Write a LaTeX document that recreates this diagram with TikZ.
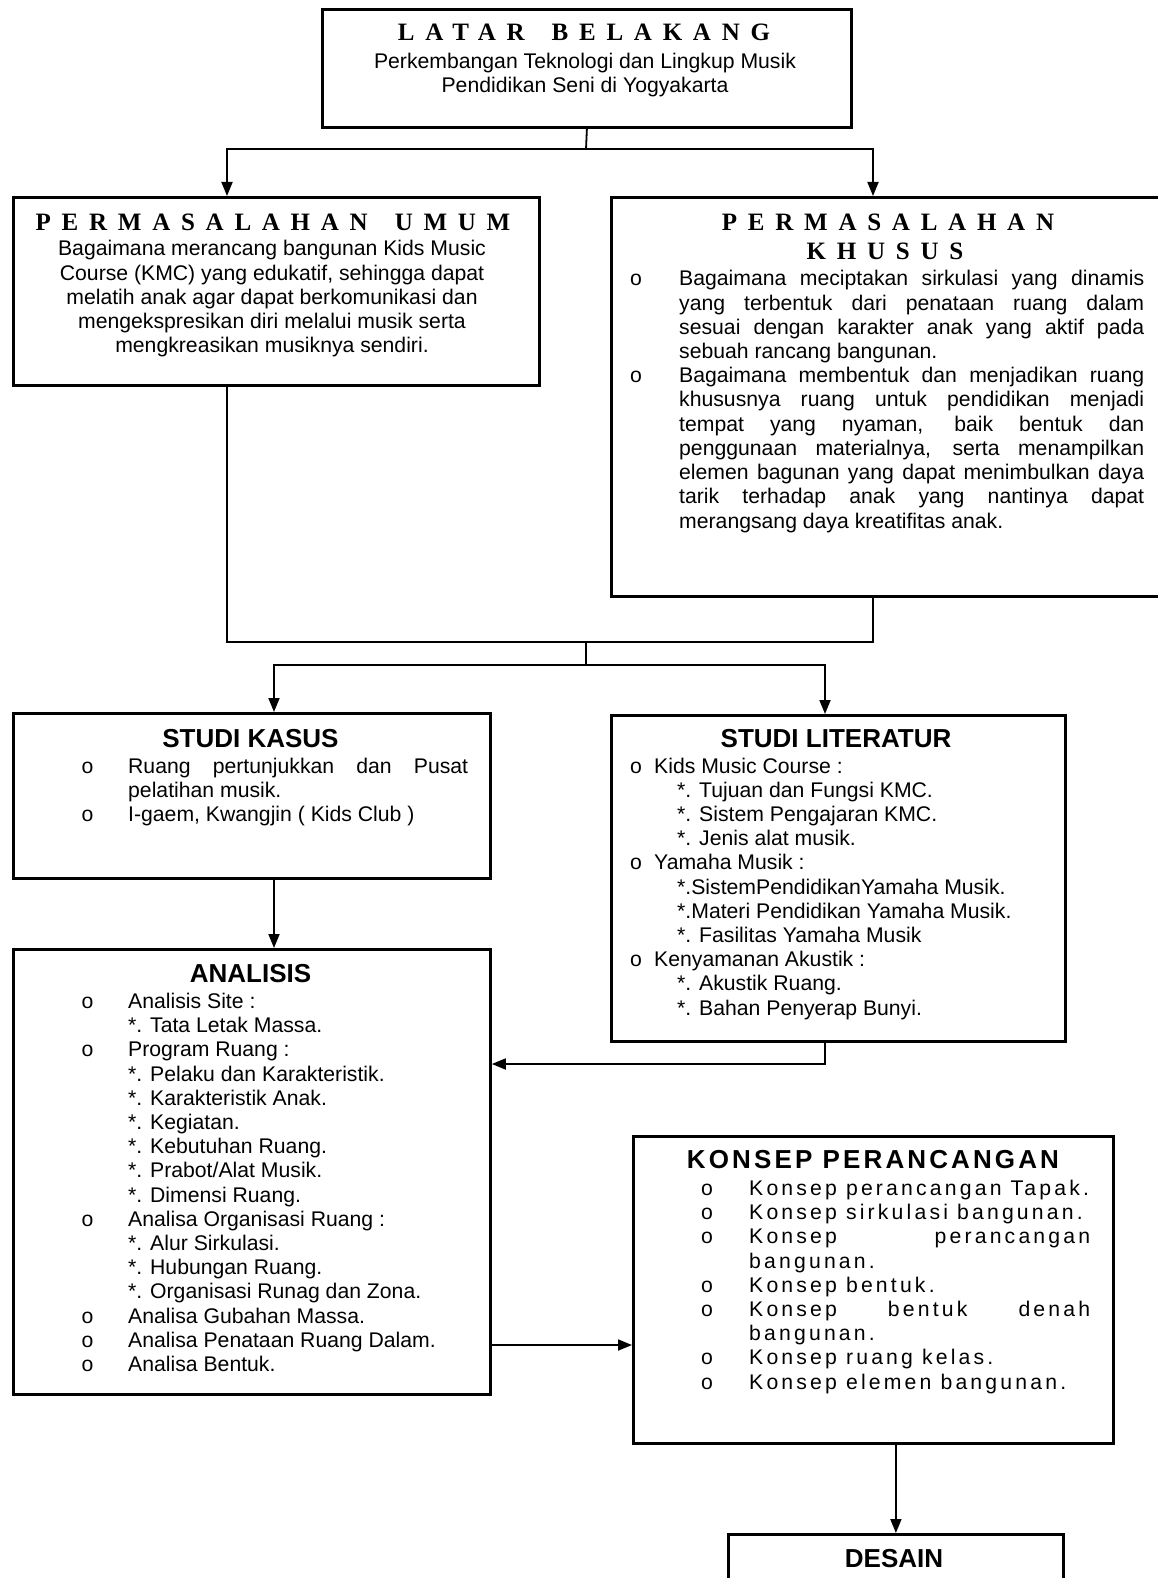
\documentclass[tikz,border=0pt]{standalone}
\usepackage{fontspec}
\setmainfont{Liberation Sans}
\newfontfamily\ttlserif[LetterSpace=43]{Liberation Serif}
\newfontfamily\spsans[LetterSpace=15]{Liberation Sans}
\newfontfamily\spsanst[LetterSpace=12]{Liberation Sans}
\usetikzlibrary{arrows.meta}
\newcommand\mybody{\fontsize{21.2}{24.2}\selectfont}
\newcommand\myhead{\fontsize{26}{30}\selectfont\bfseries}
\newcommand\myserif{\fontsize{25}{29}\selectfont\ttlserif\bfseries}
\newcommand\bul[2]{\par\hangindent=#1\hangafter=1\noindent\makebox[#1][l]{o}#2\par}
\newcommand\jtext[2]{\begin{minipage}[t]{#1}\mybody\parindent=0pt\tolerance=10000\emergencystretch=0pt #2\end{minipage}}
\newcommand\ltext[2]{\begin{minipage}[t]{#1}\mybody\parindent=0pt\raggedright #2\end{minipage}}
\newcommand\ctext[2]{\begin{minipage}[t]{#1}\mybody\centering #2\end{minipage}}
\begin{document}
\begin{tikzpicture}[x=1pt,y=-1pt,
  box/.style={draw,line width=2.8pt,rectangle,inner sep=0pt,anchor=north west},
  conn/.style={line width=1.8pt},
  arr/.style={conn,-{Triangle[length=14pt,width=11pt]}},
  ttl/.style={inner sep=0pt,anchor=base},
  body/.style={inner sep=0pt,anchor=base west},
]
\useasboundingbox (0,0) rectangle (1157,1578);
\fill[white] (0,0) rectangle (1157,1578);
% boxes
\node[box,minimum width=529pt,minimum height=118pt] (lb) at (321,8) {};
\node[box,minimum width=526pt,minimum height=188pt] (pu) at (12,196) {};
\node[box,minimum width=560pt,minimum height=399pt] (pk) at (610,196) {};
\node[box,minimum width=477pt,minimum height=165pt] (sk) at (12,712) {};
\node[box,minimum width=454pt,minimum height=326pt] (sl) at (610,714) {};
\node[box,minimum width=477pt,minimum height=445pt] (an) at (12,948) {};
\node[box,minimum width=480pt,minimum height=307pt] (kp) at (632,1135) {};
\node[box,minimum width=335pt,minimum height=90pt] (ds) at (727,1533) {};
% texts
\node[ttl] (lbt) at (584,41) {\fontsize{25}{29}\selectfont\ttlserif\bfseries LATAR\hspace{10pt} BELAKANG};
\node[ttl] (lbs) at (585,69)
  {\begin{minipage}[t]{500pt}\fontsize{21.2}{23.1}\selectfont\centering
   Perkembangan Teknologi dan Lingkup Musik\\Pendidikan Seni di Yogyakarta\end{minipage}};
\node[ttl] (put) at (273,230.5) {\myserif PERMASALAHAN\hspace{10pt} UMUM};
\node[ttl] (pus) at (272,256)
  {\ctext{510pt}{Bagaimana merancang bangunan Kids Music\\
   Course (KMC) yang edukatif, sehingga dapat\\
   melatih anak agar dapat berkomunikasi dan\\
   mengekspresikan diri melalui musik serta\\
   mengkreasikan musiknya sendiri.}};
\node[ttl] (pkt1) at (888,230.5) {\myserif PERMASALAHAN};
\node[ttl] (pkt2) at (885,259.5) {\myserif KHUSUS};
\node[body] (pks) at (630,286)
  {\jtext{514pt}{\bul{49pt}{Bagaimana meciptakan sirkulasi yang dinamis\linebreak yang terbentuk dari penataan ruang dalam\linebreak sesuai dengan karakter anak yang aktif pada\linebreak sebuah rancang bangunan.}%
   \bul{49pt}{Bagaimana membentuk dan menjadikan ruang\linebreak khususnya ruang untuk pendidikan menjadi\linebreak tempat yang nyaman, baik bentuk dan\linebreak penggunaan materialnya, serta menampilkan\linebreak elemen bagunan yang dapat menimbulkan daya\linebreak tarik terhadap anak yang nantinya dapat\linebreak merangsang daya kreatifitas anak.}}};
\node[ttl] (skt) at (250.5,747) {\myhead STUDI KASUS};
\node[body] (sks) at (81.5,773)
  {\jtext{386.5pt}{\bul{46.5pt}{Ruang pertunjukkan dan Pusat\linebreak pelatihan musik.}%
   \bul{46.5pt}{I-gaem, Kwangjin ( Kids Club )}}};
\node[ttl] (slt) at (836,747) {\myhead STUDI LITERATUR};
\node[body] (sls) at (630,773)
  {\ltext{430pt}{\makebox[24pt][l]{o}Kids Music Course :\\
   \hspace*{47pt}*. Tujuan dan Fungsi KMC.\\
   \hspace*{47pt}*. Sistem Pengajaran KMC.\\
   \hspace*{47pt}*. Jenis alat musik.\\
   \makebox[24pt][l]{o}Yamaha Musik :\\
   \hspace*{47pt}*.SistemPendidikanYamaha Musik.\\
   \hspace*{47pt}*.Materi Pendidikan Yamaha Musik.\\
   \hspace*{47pt}*. Fasilitas Yamaha Musik\\
   \makebox[24pt][l]{o}Kenyamanan Akustik :\\
   \hspace*{47pt}*. Akustik Ruang.\\
   \hspace*{47pt}*. Bahan Penyerap Bunyi.}};
\node[ttl] (ant) at (250.5,982) {\myhead ANALISIS};
\node[body] (ans) at (81.5,1008.5)
  {\ltext{400pt}{\makebox[46.5pt][l]{o}Analisis Site :\\
   \hspace*{46.5pt}*. Tata Letak Massa.\\
   \makebox[46.5pt][l]{o}Program Ruang :\\
   \hspace*{46.5pt}*. Pelaku dan Karakteristik.\\
   \hspace*{46.5pt}*. Karakteristik Anak.\\
   \hspace*{46.5pt}*. Kegiatan.\\
   \hspace*{46.5pt}*. Kebutuhan Ruang.\\
   \hspace*{46.5pt}*. Prabot/Alat Musik.\\
   \hspace*{46.5pt}*. Dimensi Ruang.\\
   \makebox[46.5pt][l]{o}Analisa Organisasi Ruang :\\
   \hspace*{46.5pt}*. Alur Sirkulasi.\\
   \hspace*{46.5pt}*. Hubungan Ruang.\\
   \hspace*{46.5pt}*. Organisasi Runag dan Zona.\\
   \makebox[46.5pt][l]{o}Analisa Gubahan Massa.\\
   \makebox[46.5pt][l]{o}Analisa Penataan Ruang Dalam.\\
   \makebox[46.5pt][l]{o}Analisa Bentuk.}};
\node[ttl] (kpt) at (873,1168) {\fontsize{26}{30}\selectfont\spsanst\bfseries KONSEP PERANCANGAN};
\node[body] (kps) at (701,1195.5)
  {\jtext{389pt}{\spsans
   \bul{48pt}{Konsep perancangan Tapak.}%
   \bul{48pt}{Konsep sirkulasi bangunan.}%
   \bul{48pt}{Konsep perancangan\linebreak bangunan.}%
   \bul{48pt}{Konsep bentuk.}%
   \bul{48pt}{Konsep bentuk denah\linebreak bangunan.}%
   \bul{48pt}{Konsep ruang kelas.}%
   \bul{48pt}{Konsep elemen bangunan.}}};
\node[ttl] (dst) at (894,1567) {\myhead DESAIN};
% connectors
\coordinate (t1) at (586,149);
\draw[conn] (lb.south) -- (t1);
\draw[arr] (t1) -| ([xshift=215pt]pu.north west);
\draw[arr] (t1) -| ([xshift=263pt]pk.north west);
\coordinate (m1) at (586,642);
\coordinate (m2) at (586,665);
\draw[conn] ([xshift=215pt]pu.south west) |- (m1);
\draw[conn] ([xshift=263pt]pk.south west) |- (m1);
\draw[conn] (m1) -- (m2);
\draw[arr] (m2) -| ([xshift=262pt]sk.north west);
\draw[arr] (m2) -| ([xshift=215pt]sl.north west);
\draw[arr] ([xshift=262pt]sk.south west) -- ([xshift=262pt]an.north west);
\coordinate (a1) at ([yshift=-116pt]an.north east);
\draw[arr] ([xshift=215pt]sl.south west) |- (a1);
\coordinate (k1) at ([yshift=-210pt]kp.north west);
\draw[arr] (an.east |- k1) -- (k1);
\draw[arr] (kp.south -| ds.north) -- (ds.north);
\end{tikzpicture}
\end{document}
